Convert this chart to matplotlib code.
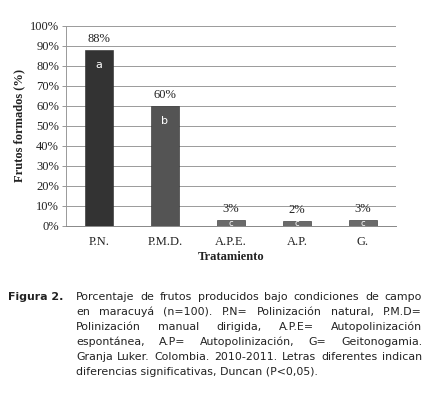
import matplotlib
matplotlib.use("Agg")
import matplotlib.pyplot as plt

categories = ["P.N.", "P.M.D.", "A.P.E.", "A.P.", "G."]
values = [88, 60, 3, 2.5, 3]
value_labels = ["88%", "60%", "3%", "2%", "3%"]
letters = ["a", "b", "c", "c", "c"]
yticks = [0, 10, 20, 30, 40, 50, 60, 70, 80, 90, 100]
bar_colors = ["#333333", "#545454", "#6a6a6a", "#6a6a6a", "#6a6a6a"]

caption_lines = [
    "Porcentaje de frutos producidos bajo condiciones de campo",
    "en maracuyá (n=100). P.N= Polinización natural, P.M.D=",
    "Polinización manual dirigida, A.P.E= Autopolinización",
    "espontánea, A.P= Autopolinización, G= Geitonogamia.",
    "Granja Luker. Colombia. 2010-2011. Letras diferentes indican",
    "diferencias significativas, Duncan (P<0,05).",
]

W, H = 437, 396
fig = plt.figure(figsize=(W / 100, H / 100), dpi=100)
ax = fig.add_axes([66 / W, 1 - 226 / H, 330 / W, 200 / H])

serif = "Liberation Serif"
fs = 9
x = list(range(len(categories)))
ax.bar(x, values, width=0.42, color=bar_colors, edgecolor="#2a2a2a", linewidth=0.4, zorder=3)
ax.set_xlim(-0.5, len(categories) - 0.5)
ax.set_ylim(0, 100)
ax.set_yticks(yticks)
ax.set_yticklabels([f"{t}%" for t in yticks], fontfamily=serif, fontsize=fs, color="#222222")
ax.set_xticks(x)
ax.set_xticklabels(categories, fontfamily=serif, fontsize=fs, color="#222222")
ax.tick_params(axis="x", length=0, pad=7)
ax.tick_params(axis="y", length=3, width=0.6, color="#888888", pad=2)
ax.grid(axis="y", color="#9a9a9a", linewidth=0.7, zorder=0)
for s in ["top", "right"]:
    ax.spines[s].set_visible(False)
ax.spines["left"].set_color("#999999")
ax.spines["bottom"].set_color("#888888")
ax.spines["left"].set_linewidth(0.7)
ax.spines["bottom"].set_linewidth(0.7)

for xi, v, lab, let in zip(x, values, value_labels, letters):
    ax.text(xi, v + 5.5, lab, ha="center", va="center", fontfamily=serif, fontsize=fs, color="#222222", zorder=4)
    ly = v - 7.5 if v > 15 else v / 2
    ax.text(xi, ly, let, ha="center", va="center", fontfamily="DejaVu Sans", fontsize=8 if v > 15 else 6,
            color="white", zorder=4)

ax.set_ylabel("Frutos formados (%)", fontfamily=serif, fontweight="bold", fontsize=fs, color="#222222")
ax.yaxis.set_label_coords(-41 / 330, 0.5)
ax.set_xlabel("Tratamiento", fontfamily=serif, fontweight="bold", fontsize=fs, color="#222222")
ax.xaxis.set_label_coords(0.5, -(251 - 226) / 200)

# caption
cap_font = dict(fontfamily="DejaVu Sans", fontsize=7.95, color="#222222")
fig.text(8 / W, 1 - 297 / H, "Figura 2.", fontweight="bold", va="center", ha="left", **cap_font)
renderer = fig.canvas.get_renderer()
x0, x1 = 76, 422
line_y = [297 + 15 * i for i in range(len(caption_lines))]
for i, (line, yy) in enumerate(zip(caption_lines, line_y)):
    words = line.split(" ")
    if i == len(caption_lines) - 1:
        fig.text(x0 / W, 1 - yy / H, line, va="center", ha="left", **cap_font)
        continue
    texts = [fig.text(0, 1 - yy / H, w, va="center", ha="left", **cap_font) for w in words]
    widths = [t.get_window_extent(renderer).width for t in texts]
    gap = (x1 - x0 - sum(widths)) / (len(words) - 1)
    cx = x0
    for t, w in zip(texts, widths):
        t.set_x(cx / W)
        cx += w + gap

fig.savefig("out.png", dpi=100)
